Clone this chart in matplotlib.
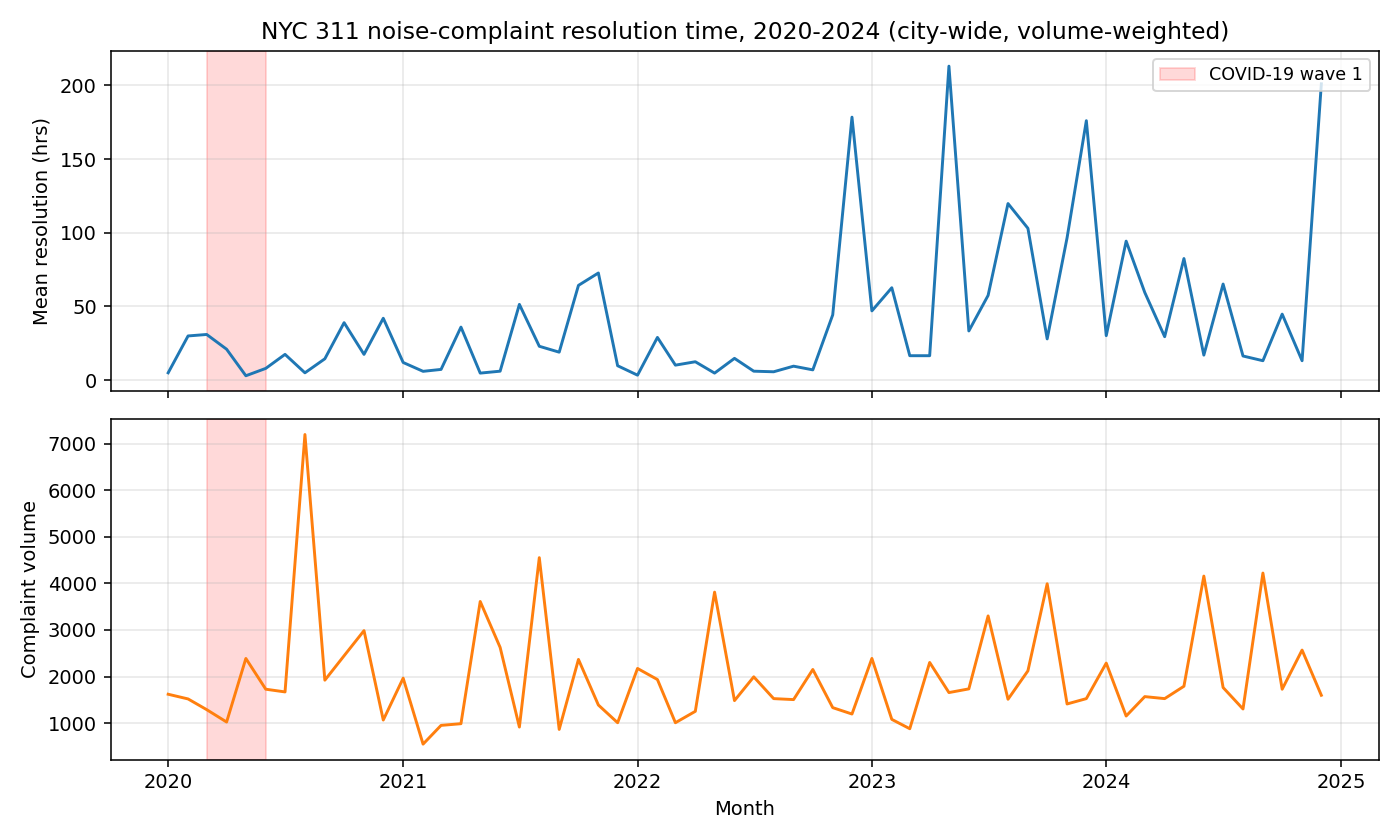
import matplotlib
matplotlib.use("Agg")
import matplotlib.pyplot as plt
import pandas as pd

months = pd.date_range("2020-01-01", "2024-12-01", freq="MS")

mean_resolution_hrs = [
    5, 30, 31, 21, 3, 8, 17.5, 5, 14.5, 39, 17.5, 42,
    12, 6, 7.3, 36, 4.8, 6.1, 51.4, 23, 19, 64.3, 72.7, 9.8,
    3.4, 29, 10.2, 12.5, 4.8, 14.8, 6.1, 5.7, 9.5, 7, 44.3, 178.4,
    47, 62.7, 16.6, 16.6, 213, 33.4, 57.5, 119.8, 103, 28, 96.6, 176,
    30.2, 94.3, 59.5, 29.5, 82.5, 17, 65.2, 16.4, 13.2, 44.8, 13.2, 201,
]

complaint_volume = [
    1619, 1518, 1288, 1022, 2388, 1727, 1669, 7200, 1921, 2446, 2986, 1065,
    1964, 547, 950, 986, 3612, 2626, 914, 4554, 863, 2367, 1388, 1007,
    2173, 1935, 1007, 1252, 3813, 1482, 1993, 1525, 1504, 2151, 1331, 1194,
    2388, 1079, 878, 2302, 1655, 1734, 3302, 1511, 2122, 3993, 1410, 1525,
    2288, 1151, 1568, 1525, 1791, 4158, 1763, 1302, 4223, 1727, 2568, 1597,
]

covid_start = pd.Timestamp("2020-03-01")
covid_end = pd.Timestamp("2020-06-01")

fig, (ax1, ax2) = plt.subplots(2, 1, figsize=(10, 6), dpi=140, sharex=True)

ax1.plot(months, mean_resolution_hrs, color="#1f77b4")
ax1.axvspan(covid_start, covid_end, color="red", alpha=0.15, label="COVID-19 wave 1")
ax1.set_ylabel("Mean resolution (hrs)")
ax1.grid(True, alpha=0.3)
ax1.legend(loc="upper right", fontsize=9)
ax1.set_title("NYC 311 noise-complaint resolution time, 2020-2024 (city-wide, volume-weighted)")

ax2.plot(months, complaint_volume, color="#ff7f0e")
ax2.axvspan(covid_start, covid_end, color="red", alpha=0.15)
ax2.set_ylabel("Complaint volume")
ax2.set_xlabel("Month")
ax2.grid(True, alpha=0.3)

fig.tight_layout()
fig.savefig("out.png", dpi=140)
